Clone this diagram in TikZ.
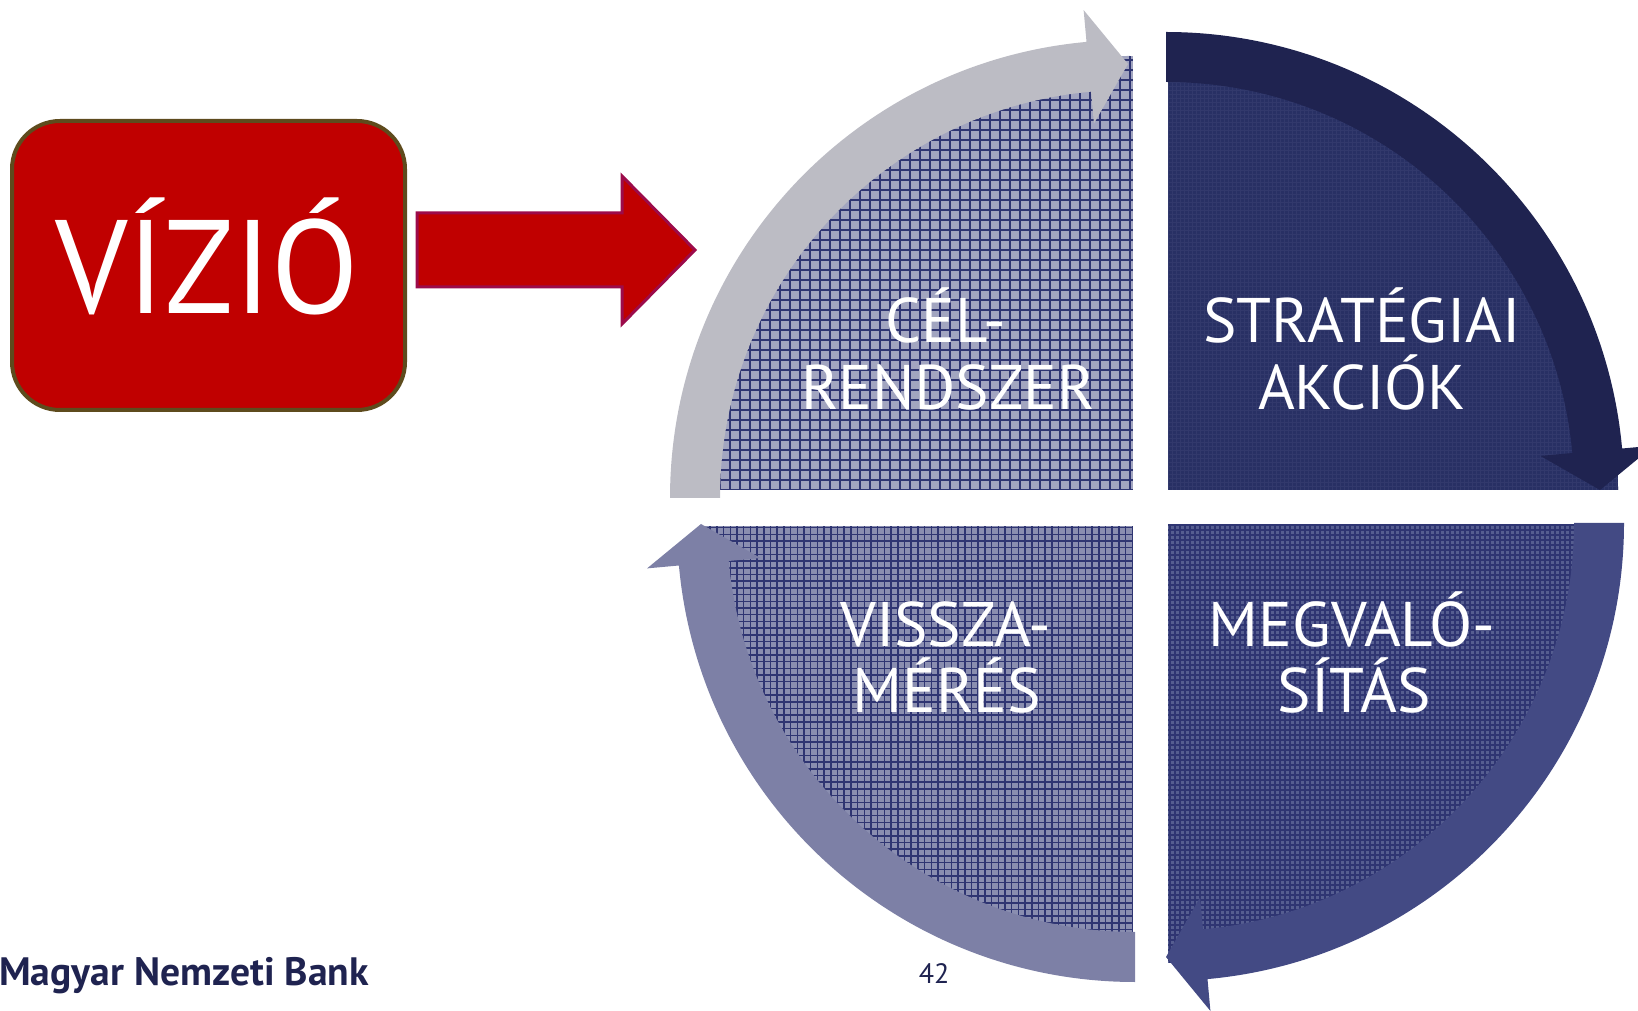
\documentclass[tikz,border=0pt]{standalone}
\usepackage{fontspec}
\setmainfont{PT Sans}
\definecolor{vred}{HTML}{C00000}
\definecolor{vbrown}{HTML}{5E4B1D}
\definecolor{vmag}{HTML}{9C0B4A}
\definecolor{navy}{HTML}{1F2350}
\definecolor{tlbase}{HTML}{A2A5C0}
\definecolor{gline}{HTML}{2F3572}
\definecolor{trbase}{HTML}{283064}
\definecolor{trdot}{HTML}{5A6190}
\definecolor{brbase}{HTML}{565E90}
\definecolor{blbase}{HTML}{8A8EB0}
\definecolor{agray}{HTML}{BCBCC4}
\definecolor{anavy}{HTML}{1F2350}
\definecolor{ablue}{HTML}{434A84}
\definecolor{alav}{HTML}{7D80A6}
\newcommand{\cycarrow}[3]{%
  \fill[#3,shift={#1}] (#2:458) arc[start angle=#2, delta angle=-84.8, radius=458]
    -- ({#2-84.8}:490) -- ({#2-90}:434) -- ({#2-84.8}:376) -- ({#2-84.8}:408)
    arc[start angle={#2-84.8}, delta angle=84.8, radius=408] -- cycle;}
\begin{document}
\begin{tikzpicture}[x=1pt,y=1pt,
  qtext/.style={text=white,font=\fontsize{63}{67}\selectfont,anchor=base,inner sep=0pt},
  gridl/.style={draw=gline,line width=1.1pt}]
\useasboundingbox (0,0) rectangle (1638,1010);
% ---- quadrant TL
\begin{scope}
  \clip (500,520) rectangle (1133,1010);
  \clip (1128,512) circle[radius=442];
  \fill[tlbase] (500,520) rectangle (1133,1010);
  \draw[gridl,step=10] (500,520) grid (1133,1010);
\end{scope}
% ---- quadrant TR
\begin{scope}
  \clip (1168,520) rectangle (1700,1010);
  \clip (1166,520) circle[radius=452];
  \fill[trbase] (1168,520) rectangle (1700,1010);
  \draw[trdot,line width=0.8pt,step=4] (1168,520) grid (1700,1010);
  \fill[trbase,opacity=0.8] (1168,520) rectangle (1700,1010);
\end{scope}
% ---- quadrant BR
\begin{scope}
  \clip (1168,0) rectangle (1700,485);
  \clip (1166,487) circle[radius=440];
  \fill[brbase] (1168,0) rectangle (1700,485);
  \draw[gridl,line width=1.3pt,step=5] (1168,0) grid (1700,485);
\end{scope}
% ---- quadrant BL
\begin{scope}
  \clip (500,0) rectangle (1133,484);
  \clip (1135,486) circle[radius=436];
  \fill[blbase] (500,0) rectangle (1133,484);
  \draw[gridl,line width=1.5pt,step=6.7] (500,0) grid (1133,484);
\end{scope}
% ---- cycle arrows
\cycarrow{(1128,512)}{180}{agray}
\cycarrow{(1166,520)}{90}{anavy}
\cycarrow{(1166,487)}{0}{ablue}
\cycarrow{(1135,486)}{270}{alav}
% ---- quadrant texts
\node[qtext] (cel1) at (946,667) {CÉL-};
\node[qtext] (cel2) at (948,600) {RENDSZER};
\node[qtext] (str1) at (1362,667) {STRATÉGIAI};
\node[qtext] (str2) at (1362,600) {AKCIÓK};
\node[qtext] (vis1) at (946,363) {VISSZA-};
\node[qtext] (vis2) at (947,297) {MÉRÉS};
\node[qtext] (meg1) at (1352,363) {MEGVALÓ-};
\node[qtext] (meg2) at (1354,297) {SÍTÁS};
% ---- vision box
\node[draw=vbrown,line width=4pt,fill=vred,rounded corners=48pt,
  minimum width=393pt,minimum height=289pt,inner sep=0pt] (vbox) at (208.5,744.5) {};
\node[text=white,anchor=base,inner sep=0pt] (vtext) at (207,696)
  {\scalebox{0.96}[1]{\fontsize{133}{140}\selectfont VÍZIÓ}};
% ---- red arrow
\coordinate (ra) at (417,760);
\draw[vmag,line width=3pt,fill=vred,line join=miter]
  (ra) ++(0,37) -- (622,797) -- (622,834) -- (695,760) -- (622,686) -- (622,723) -- (417,723) -- cycle;
% ---- footer
\node[text=navy,anchor=base west,inner sep=0pt,font=\bfseries\fontsize{39.6}{42}\selectfont]
  (mnb) at (-1,25) {Magyar Nemzeti Bank};
\node[text=navy,anchor=base,inner sep=0pt,font=\fontsize{28}{30}\selectfont]
  (pg) at (934,27) {42};
\end{tikzpicture}
\end{document}
